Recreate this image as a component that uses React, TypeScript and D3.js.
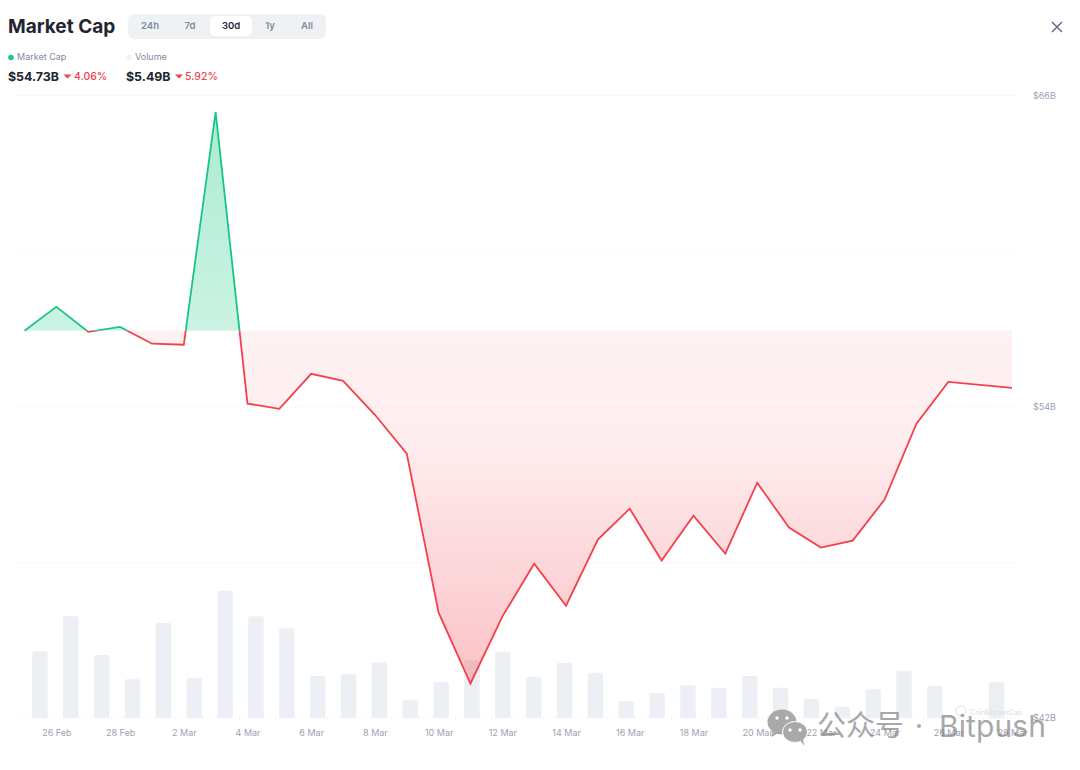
import * as d3 from "d3";
import { useEffect, useRef } from "react";

const days = [
  "02-25", "02-26", "02-27", "02-28", "03-01", "03-02", "03-03", "03-04",
  "03-05", "03-06", "03-07", "03-08", "03-09", "03-10", "03-11", "03-12",
  "03-13", "03-14", "03-15", "03-16", "03-17", "03-18", "03-19", "03-20",
  "03-21", "03-22", "03-23", "03-24", "03-25", "03-26", "03-27", "03-28",
];
// billions, no reading for 27 Mar
const marketCap = [
  56.93, 57.85, 56.89, 57.08, 56.43, 56.39, 65.36, 54.12,
  53.92, 55.27, 55.0, 53.69, 52.19, 46.06, 43.33, 45.91,
  47.95, 46.33, 48.88, 50.07, 48.07, 49.8, 48.34, 51.07,
  49.34, 48.57, 48.84, 50.42, 53.35, 54.96, null, 54.73,
];
const volume = [
  10.2, 15.5, 9.6, 5.9, 14.5, 6.1, 19.4, 15.5,
  13.7, 6.4, 6.7, 8.5, 2.7, 5.5, 8.8, 10.1,
  6.3, 8.4, 6.9, 2.6, 3.8, 5.0, 4.6, 6.4,
  4.6, 2.9, 1.7, 4.4, 7.2, 4.9, null, 5.49,
];
const xTickDays = [
  "02-26", "02-28", "03-02", "03-04", "03-06", "03-08", "03-10", "03-12",
  "03-14", "03-16", "03-18", "03-20", "03-22", "03-24", "03-26", "03-28",
];
const gridTicks = [42, 48, 54, 60, 66];
const yLabelTicks = [42, 54, 66];
const ranges = ["24h", "7d", "30d", "1y", "All"];
const rangeCenters = [150, 190, 231, 270, 307];
const activeRange = "30d";

const GREEN = "#16c784";
const RED = "#f4404c";
const GRAY = "#9aa2b4";
const FONT = "Inter, sans-serif";

const parseDay = (d: string) => new Date(2025, +d.slice(0, 2) - 1, +d.slice(3));
const months = ["Jan", "Feb", "Mar"];

const App = () => {
  const ref = useRef<SVGSVGElement>(null);

  useEffect(() => {
    const svg = d3.select(ref.current);
    svg.selectAll("*").remove();

    const left = 24.5, right = 1012, top = 95.5, bottom = 718;
    const points = days
      .map((d, i) => ({ day: d, date: parseDay(d), cap: marketCap[i], vol: volume[i] }));
    const capPoints = points.filter(d => d.cap !== null);
    const volPoints = points.filter(d => d.vol !== null);

    const xScale = d3.scaleTime()
      .domain([parseDay(days[0]), parseDay(days[days.length - 1])])
      .range([left, right]);
    const bandScale = d3.scaleBand().domain(days).range([left, right])
      .paddingInner(0.5).paddingOuter(0.25);
    const yScale = d3.scaleLinear().domain([42, 66]).range([bottom, top]);
    const volScale = d3.scaleLinear().domain([0, 5.49]).range([bottom, bottom - 36]);

    const baseValue = marketCap[0];
    const baseY = yScale(baseValue);

    const defs = svg.append("defs");
    const redGrad = defs.append("linearGradient").attr("id", "red-fill")
      .attr("gradientUnits", "userSpaceOnUse")
      .attr("x1", 0).attr("x2", 0).attr("y1", baseY).attr("y2", yScale(43.33));
    redGrad.append("stop").attr("offset", "0").attr("stop-color", RED).attr("stop-opacity", 0.07);
    redGrad.append("stop").attr("offset", "0.3").attr("stop-color", RED).attr("stop-opacity", 0.09);
    redGrad.append("stop").attr("offset", "1").attr("stop-color", RED).attr("stop-opacity", 0.32);
    const greenGrad = defs.append("linearGradient").attr("id", "green-fill")
      .attr("gradientUnits", "userSpaceOnUse")
      .attr("x1", 0).attr("x2", 0).attr("y1", yScale(65.36)).attr("y2", baseY);
    greenGrad.append("stop").attr("offset", "0").attr("stop-color", GREEN).attr("stop-opacity", 0.36);
    greenGrad.append("stop").attr("offset", "1").attr("stop-color", GREEN).attr("stop-opacity", 0.22);
    defs.append("clipPath").attr("id", "above").append("rect")
      .attr("x", 0).attr("y", 0).attr("width", 1080).attr("height", baseY);
    defs.append("clipPath").attr("id", "below").append("rect")
      .attr("x", 0).attr("y", baseY).attr("width", 1080).attr("height", 770 - baseY);

    // grid
    svg.append("g").selectAll("line").data(gridTicks).enter().append("line")
      .attr("x1", 15).attr("x2", 1020)
      .attr("y1", d => yScale(d)).attr("y2", d => yScale(d))
      .attr("stroke", "#e6e9ee").attr("stroke-dasharray", "1,3");

    // volume bars
    svg.append("g").selectAll("path").data(volPoints).enter().append("path")
      .attr("d", d => {
        const x0 = bandScale(d.day), w = bandScale.bandwidth(), y = volScale(d.vol), r = 2;
        return `M${x0},${bottom}V${y + r}Q${x0},${y} ${x0 + r},${y}H${x0 + w - r}Q${x0 + w},${y} ${x0 + w},${y + r}V${bottom}Z`;
      })
      .attr("fill", "#eceff3");

    // market cap area and line, split on the first value
    const area = d3.area().x(d => xScale(d.date)).y0(baseY).y1(d => yScale(d.cap));
    const line = d3.line().x(d => xScale(d.date)).y(d => yScale(d.cap));

    svg.append("path").attr("d", area(capPoints)).attr("fill", "url(#green-fill)")
      .attr("clip-path", "url(#above)");
    svg.append("path").attr("d", area(capPoints)).attr("fill", "url(#red-fill)")
      .attr("clip-path", "url(#below)");
    svg.append("path").attr("d", line(capPoints)).attr("fill", "none").attr("stroke", GREEN)
      .attr("stroke-width", 1.8).attr("clip-path", "url(#above)");
    svg.append("path").attr("d", line(capPoints)).attr("fill", "none").attr("stroke", RED)
      .attr("stroke-width", 1.8).attr("clip-path", "url(#below)");

    // x axis
    const xAxis = svg.append("g").attr("transform", `translate(0,${bottom})`)
      .call(d3.axisBottom(xScale)
        .tickValues(xTickDays.map(parseDay))
        .tickSize(0).tickPadding(12)
        .tickFormat((d: Date) => `${d.getDate()} ${months[d.getMonth()]}`));
    xAxis.select(".domain").remove();
    xAxis.selectAll("text").attr("fill", GRAY).style("font-size", "9px").style("font-family", FONT);

    // y axis
    const yAxis = svg.append("g").attr("transform", "translate(1033,0)")
      .call(d3.axisRight(yScale).tickValues(yLabelTicks).tickSize(0).tickPadding(0)
        .tickFormat(d => `$${d}B`));
    yAxis.select(".domain").remove();
    yAxis.selectAll("text").attr("fill", GRAY).style("font-size", "9px").style("font-family", FONT);

    // header
    const text = (x, y, str, size, weight, color, anchor = "start") =>
      svg.append("text").attr("x", x).attr("y", y).text(str)
        .attr("font-family", FONT).attr("font-size", size).attr("font-weight", weight)
        .attr("fill", color).attr("text-anchor", anchor);

    text(8, 33, "Market Cap", 19, 700, "#222531");
    svg.append("rect").attr("x", 128).attr("y", 14).attr("width", 198).attr("height", 25)
      .attr("rx", 6).attr("fill", "#eff2f5");
    svg.append("rect").attr("x", 210).attr("y", 16).attr("width", 42).attr("height", 20)
      .attr("rx", 5).attr("fill", "#fff");
    ranges.forEach((r, i) => {
      const on = r === activeRange;
      text(rangeCenters[i], 28.5, r, 9.5, 600, on ? "#222531" : "#808a9d", "middle");
    });

    const triangle = (cx, cy) =>
      svg.append("path").attr("d", `M${cx - 4},${cy - 2}H${cx + 4}L${cx},${cy + 2}Z`).attr("fill", RED);

    svg.append("circle").attr("cx", 11).attr("cy", 57.5).attr("r", 2.8).attr("fill", GREEN);
    text(17, 59.5, "Market Cap", 9, 400, "#808a9d");
    text(8, 81, "$54.73B", 12.4, 700, "#222531");
    triangle(67.5, 76.5);
    text(74, 80, "4.06%", 10.5, 500, RED);

    svg.append("circle").attr("cx", 129).attr("cy", 57.5).attr("r", 2.8).attr("fill", "#eff2f5");
    text(135, 59.5, "Volume", 9, 400, "#808a9d");
    text(126, 81, "$5.49B", 12.4, 700, "#222531");
    triangle(179, 76.5);
    text(185, 80, "5.92%", 10.5, 500, RED);

    // close button
    svg.append("path").attr("d", "M1052,22L1062,32M1062,22L1052,32")
      .attr("stroke", "#616e85").attr("stroke-width", 1.5).attr("fill", "none");

    // CoinMarketCap mark
    svg.append("circle").attr("cx", 961).attr("cy", 711).attr("r", 5)
      .attr("fill", "none").attr("stroke", "#dfe3e9").attr("stroke-width", 1);
    text(970, 715, "CoinMarketCap", 7, 500, "#dfe3e9");

    // WeChat watermark, sits over the axis labels
    const wm = svg.append("g").attr("fill", "#7c7c7c").attr("opacity", 0.66);
    wm.append("text").attr("x", 817).attr("y", 736).text("公众号")
      .attr("font-family", "'Noto Sans CJK SC'").attr("font-size", 29);
    wm.append("circle").attr("cx", 919).attr("cy", 726).attr("r", 2);
    wm.append("text").attr("x", 939).attr("y", 737).text("Bitpush")
      .attr("font-family", FONT).attr("font-size", 30).attr("letter-spacing", 0.1);
    const icon = svg.append("g").attr("fill", "#a9a9a9");
    icon.append("ellipse").attr("cx", 782).attr("cy", 722).attr("rx", 14.5).attr("ry", 12.5);
    icon.append("path").attr("d", "M773,730l-2,7l8,-4Z");
    icon.append("ellipse").attr("cx", 795).attr("cy", 732).attr("rx", 12.5).attr("ry", 10.5)
      .attr("stroke", "#fff").attr("stroke-width", 1);
    icon.append("path").attr("d", "M800,740l4,6l-1,-8Z");
    [[777, 718], [787, 718], [790, 730], [800, 730]].forEach(([cx, cy]) =>
      svg.append("circle").attr("cx", cx).attr("cy", cy).attr("r", 1.7).attr("fill", "#fff"));
  }, []);

  return (
    <svg ref={ref} width={1080} height={770}
      style={{ position: "absolute", left: 0, top: 0, background: "#fff" }} />
  );
};

export default App;
